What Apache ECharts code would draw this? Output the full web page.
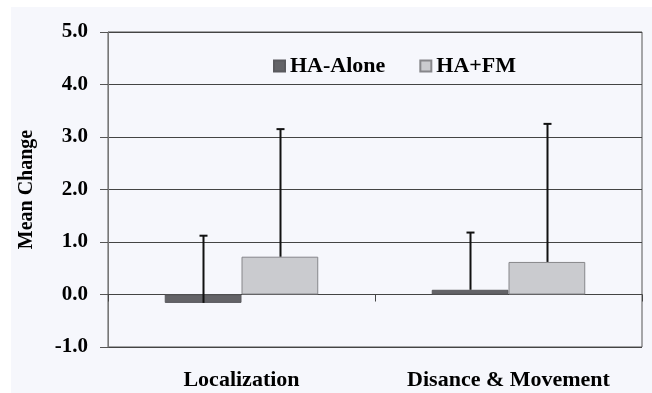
<!DOCTYPE html>
<html>
<head>
<meta charset="utf-8">
<script src="https://cdn.jsdelivr.net/npm/echarts@6/dist/echarts.min.js"></script>
<style>html,body{margin:0;padding:0;background:#fff;}#c{width:652px;height:393px;}</style>
</head>
<body>
<div id="c"></div>
<script>
var categories = ['Localization', 'Disance & Movement'];
var seriesNames = ['HA-Alone', 'HA+FM'];
var haAlone = [-0.16, 0.09];
var haFM = [0.72, 0.62];
var haAloneErr = [1.28, 1.09];
var haFMErr = [2.43, 2.63];
var yTicks = [-1, 0, 1, 2, 3, 4, 5];

var FONT = '"Liberation Serif", "Times New Roman", serif';
var GAP = 0.425;

function errSeries(vals, errs, side) {
  return {
    type: 'custom',
    xAxisIndex: 0, yAxisIndex: 0,
    z: 10,
    silent: true,
    data: vals.map(function (v, i) { return [i, v, v + errs[i]]; }),
    renderItem: function (params, api) {
      var idx = api.value(0);
      var base = api.coord([idx, api.value(1)]);
      var top = api.coord([idx, api.value(2)]);
      var band = api.size([1, 0])[0];
      var bw = band * (1 - GAP) / 2;
      var x = Math.round(base[0] + side * bw / 2) + 0.5;
      return {
        type: 'group',
        children: [
          { type: 'line', shape: { x1: x, y1: base[1], x2: x, y2: top[1] }, style: { stroke: '#111', lineWidth: 2 } },
          { type: 'line', shape: { x1: x - 4, y1: top[1], x2: x + 4, y2: top[1] }, style: { stroke: '#111', lineWidth: 2 } }
        ]
      };
    }
  };
}

var chart = echarts.init(document.getElementById('c'));
chart.setOption({
  backgroundColor: '#ffffff',
  animation: false,
  graphic: [{ type: 'rect', z: -100, silent: true, shape: { x: 11, y: 7, width: 660, height: 400 }, style: { fill: '#F6F7FC' } }],
  textStyle: { fontFamily: FONT },
  legend: {
    left: 273, top: 55, padding: 0,
    icon: 'rect',
    itemWidth: 11, itemHeight: 11, itemGap: 34,
    data: seriesNames,
    textStyle: { fontFamily: FONT, fontWeight: 'bold', fontSize: 22, color: '#000', padding: [2, 0, 0, 0] }
  },
  grid: { left: 108, top: 32, width: 534, height: 315, show: true, borderColor: '#555', borderWidth: 1, backgroundColor: 'transparent' },
  xAxis: [{
    type: 'category', data: categories, position: 'bottom',
    axisLine: { onZero: true, lineStyle: { color: '#444', width: 1 } },
    axisTick: { show: true, length: 7, inside: false, lineStyle: { color: '#444' } },
    axisLabel: { show: false }
  }, {
    type: 'category', data: categories, position: 'bottom',
    axisLine: { show: false, onZero: false }, axisTick: { show: false },
    axisLabel: { show: true, margin: 22, fontFamily: FONT, fontWeight: 'bold', fontSize: 22, color: '#000' }
  }],
  yAxis: {
    type: 'value', min: -1, max: 5, interval: 1,
    name: 'Mean Change', nameLocation: 'middle', nameGap: 71, nameRotate: 90,
    nameTextStyle: { fontFamily: FONT, fontWeight: 'bold', fontSize: 20, color: '#000' },
    axisLine: { show: true, lineStyle: { color: '#777', width: 1 } },
    axisTick: { show: true, length: 8, lineStyle: { color: '#555' } },
    splitLine: { show: true, lineStyle: { color: '#444', width: 1 } },
    axisLabel: { margin: 20, fontFamily: FONT, fontWeight: 'bold', fontSize: 21, color: '#000',
      formatter: function (v) { return yTicks.indexOf(v) >= 0 ? v.toFixed(1) : ''; } }
  },
  series: [
    { name: seriesNames[0], type: 'bar', data: haAlone, barGap: '0%', barCategoryGap: (GAP * 100) + '%',
      itemStyle: { color: '#636367', borderColor: '#5a5a5e', borderWidth: 1 } },
    { name: seriesNames[1], type: 'bar', data: haFM, barGap: '0%', barCategoryGap: (GAP * 100) + '%',
      itemStyle: { color: '#CACBCF', borderColor: '#86868A', borderWidth: 1 } },
    errSeries(haAlone, haAloneErr, -1),
    errSeries(haFM, haFMErr, 1)
  ]
});
</script>
</body>
</html>
